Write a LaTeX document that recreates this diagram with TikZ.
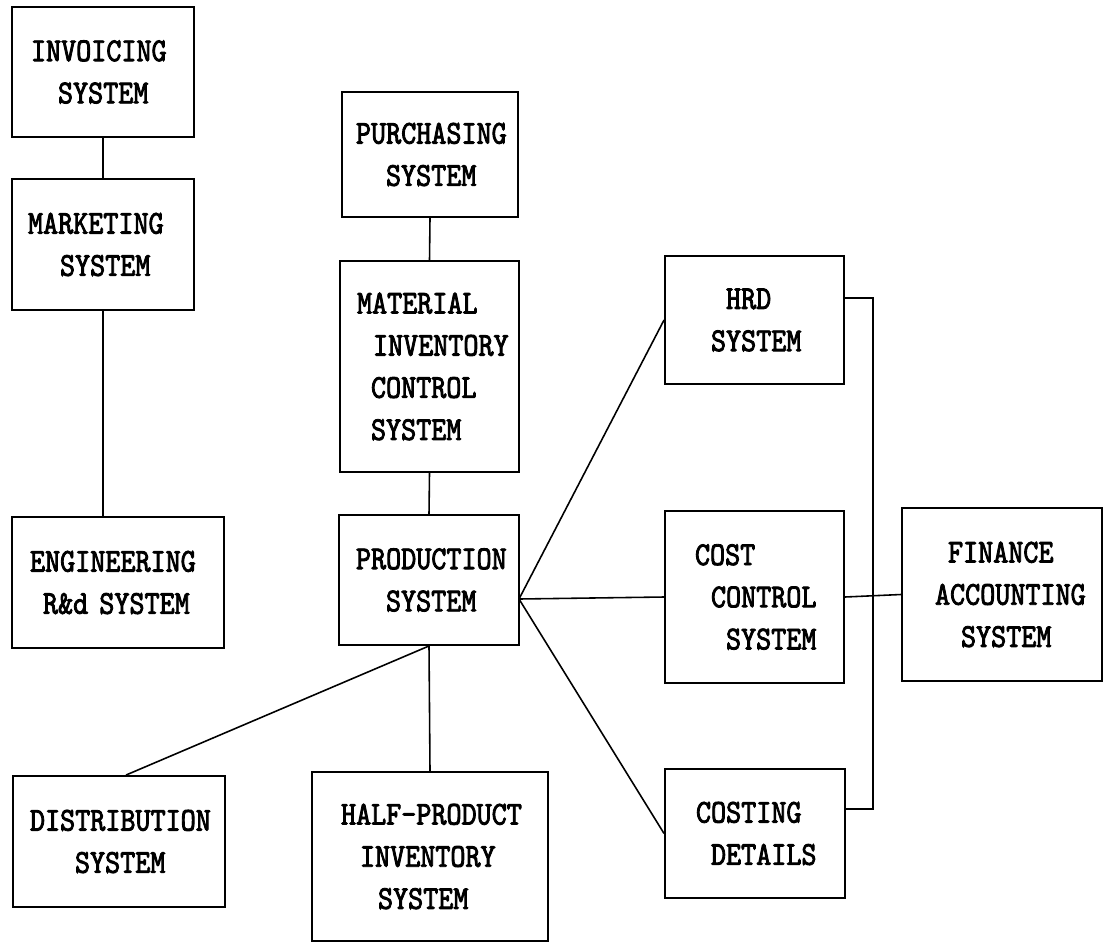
\documentclass[tikz,border=0pt]{standalone}
\usepackage{fontspec}
\newfontfamily\boxfont[FakeStretch=0.86, FakeBold=2.5]{lmmono10-regular.otf}
\usepackage{tikz}
\usetikzlibrary{positioning}
\newlength\px
\setlength\px{0.02cm}
\tikzstyle{sysbox} = [draw, line width=1.1pt, inner sep=0pt, align=left, font=\boxfont\fontsize{19pt}{24pt}\selectfont]
\tikzstyle{link} = [line width=0.9pt]

\begin{document}
\begin{tikzpicture}[x=0.02cm, y=-0.02cm]
    \useasboundingbox (0,0) rectangle (1104,943);

    % Left column
    \node[sysbox, text width=182\px, minimum height=130\px] (inv) at (103,72)
        {\hspace*{19\px}INVOICING\\\hspace*{46\px}SYSTEM};
    \node[sysbox, text width=182\px, minimum height=131\px] (mkt) at (103,244.5)
        {\hspace*{16\px}MARKETING\\\hspace*{48\px}SYSTEM};
    \node[sysbox, text width=212\px, minimum height=131\px] (eng) at (118,582.5)
        {\hspace*{18\px}ENGINEERING\\\hspace*{31\px}R\&d SYSTEM};
    \node[sysbox, text width=212\px, minimum height=131\px] (dist) at (119,841.5)
        {\hspace*{17\px}DISTRIBUTION\\\hspace*{62\px}SYSTEM};

    % Middle column
    \node[sysbox, text width=176\px, minimum height=125\px] (pur) at (430,154.5)
        {\hspace*{14\px}PURCHASING\\\hspace*{44\px}SYSTEM};
    \node[sysbox, text width=179\px, minimum height=211\px] (mat) at (429.5,366.5)
        {\hspace*{17\px}MATERIAL\\\hspace*{33\px}INVENTORY\\\hspace*{31\px}CONTROL\\\hspace*{31\px}SYSTEM};
    \node[sysbox, text width=180\px, minimum height=130\px] (prod) at (429,580)
        {\hspace*{17\px}PRODUCTION\\\hspace*{47\px}SYSTEM};
    \node[sysbox, text width=236\px, minimum height=169\px] (half) at (430,856.5)
        {\hspace*{29\px}HALF-PRODUCT\\\hspace*{48\px}INVENTORY\\\hspace*{66\px}SYSTEM};

    % Right column
    \node[sysbox, text width=179\px, minimum height=128\px] (hrd) at (754.5,320)
        {\hspace*{61\px}HRD\\\hspace*{46\px}SYSTEM};
    \node[sysbox, text width=179\px, minimum height=172\px] (cost) at (754.5,597)
        {\hspace*{30\px}COST\\\hspace*{46\px}CONTROL\\\hspace*{61\px}SYSTEM};
    \node[sysbox, text width=180\px, minimum height=129\px] (costing) at (755,833.5)
        {\hspace*{31\px}COSTING\\\hspace*{46\px}DETAILS};
    \node[sysbox, text width=200\px, minimum height=173\px] (fin) at (1002,594.5)
        {\hspace*{46\px}FINANCE\\\hspace*{33\px}ACCOUNTING\\\hspace*{59\px}SYSTEM};

    % Junction points
    \coordinate (hub) at (519,599);
    \coordinate (busT) at (873,298);
    \coordinate (busB) at (873,809);

    % Connectors
    \draw[link] (inv.south) -- (mkt.north);
    \draw[link] (mkt.south) -- (mkt.south |- eng.north);
    \draw[link] (pur.south) -- (mat.north);
    \draw[link] (mat.south) -- (prod.north);
    \draw[link] (prod.south) -- (half.north);
    \draw[link] (prod.south) -- ([xshift=4pt]dist.north);
    \draw[link] (hub) -- (hrd.west);
    \draw[link] (hub) -- (cost.west);
    \draw[link] (hub) -- (costing.west);
    \draw[link] (hrd.east |- busT) -- (busT) -- (busB) -- (costing.east |- busB);
    \draw[link] (cost.east) -- (fin.west);
\end{tikzpicture}
\end{document}
